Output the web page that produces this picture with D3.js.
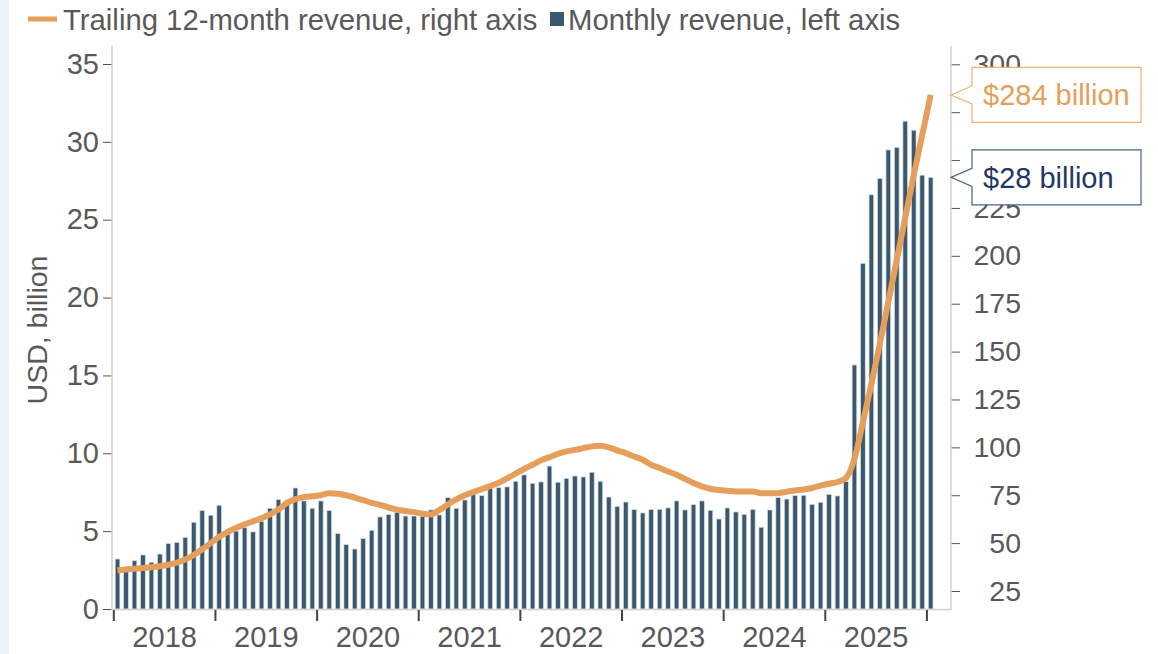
<!DOCTYPE html>
<html>
<head>
<meta charset="utf-8">
<script src="https://cdn.jsdelivr.net/npm/d3@7"></script>
<style>
  html, body { margin: 0; padding: 0; background: #ffffff; }
  svg { display: block; font-family: "Liberation Sans", Arial, sans-serif; }
</style>
</head>
<body>
<svg id="chart" width="1158" height="654"></svg>
<script>
// ---------- DATA ----------
const yearLabels = ["2018", "2019", "2020", "2021", "2022", "2023", "2024", "2025"];
const leftTicks = [0, 5, 10, 15, 20, 25, 30, 35];
const rightTicks = [25, 50, 75, 100, 125, 150, 175, 200, 225, 250, 275, 300];
const hiddenRightLabels = [250, 275]; // covered by the call-out boxes in the original

// Monthly revenue, USD billion (Jan 2018 - Jan 2026)
const monthlyRevenue = [
  3.21, 2.70, 3.10, 3.47, 3.00, 3.53, 4.20, 4.28, 4.60, 5.57, 6.32, 6.02,   // 2018
  6.66, 4.86, 5.00, 5.22, 4.95, 5.63, 6.47, 7.02, 6.80, 7.77, 6.94, 6.47,   // 2019
  6.94, 6.32, 4.84, 4.13, 3.85, 4.52, 5.05, 5.91, 6.06, 6.21, 5.97, 5.97,   // 2020
  5.93, 6.36, 6.04, 7.15, 6.47, 7.00, 7.39, 7.28, 7.75, 7.79, 7.84, 8.20,   // 2021
  8.61, 8.07, 8.16, 9.18, 8.14, 8.39, 8.54, 8.48, 8.78, 8.20, 7.19, 6.59,   // 2022
  6.87, 6.38, 6.17, 6.38, 6.40, 6.49, 6.94, 6.36, 6.70, 6.94, 6.34, 5.78,   // 2023
  6.49, 6.23, 6.08, 6.40, 5.25, 6.36, 7.15, 7.06, 7.28, 7.30, 6.72, 6.85,   // 2024
  7.36, 7.26, 8.18, 15.67, 22.20, 26.60, 27.65, 29.48, 29.64, 31.33, 30.75, 27.86, // 2025
  27.72                                                                     // Jan 2026
];

// Trailing 12-month revenue, USD billion
const trailingRevenue = [
  35.8, 36.2, 36.6, 37.0, 37.4, 37.9, 38.7, 39.8, 41.4, 43.8, 46.8, 50.0,
  53.3, 55.8, 58.0, 59.8, 61.4, 63.0, 65.0, 67.5, 71.0, 73.0, 74.0, 74.5,
  75.0, 76.0, 75.8, 75.0, 73.8, 72.5, 71.0, 70.0, 68.6, 67.5, 66.8, 66.2,
  65.3, 65.0, 67.3, 70.2, 72.8, 75.0, 76.6, 78.2, 79.8, 81.5, 83.8, 86.3,
  88.7, 90.9, 93.2, 94.9, 96.6, 97.9, 98.7, 99.6, 100.5, 100.8, 100.0, 98.4,
  97.0, 95.2, 93.5, 90.9, 89.2, 87.4, 85.7, 83.5, 81.4, 79.6, 78.4, 77.7,
  77.3, 77.0, 77.0, 77.0, 76.1, 76.0, 76.1, 76.8, 77.5, 78.0, 78.8, 80.0,
  81.0, 81.9, 84.0, 94.0, 113.0, 133.0, 154.0, 176.0, 198.0, 220.0, 242.0, 263.0,
  284.0
];

const months = d3.timeMonth.range(new Date(2018, 0, 1), new Date(2026, 1, 1));

const legendItems = ["Trailing 12-month revenue, right axis", "Monthly revenue, left axis"];
const annotations = [
  { text: "$284 billion", value: trailingRevenue[trailingRevenue.length - 1], axis: "right" },
  { text: "$28 billion", value: monthlyRevenue[monthlyRevenue.length - 1], axis: "left" }
];

// ---------- STYLE ----------
const barColor = "#3A596F";
const lineColor = "#E69F5B";
const textColor = "#595959";
const axisColor = "#d0d0d0";
const tickColor = "#555555";
const navy = "#1F3864";

const svg = d3.select("#chart");

// light left strip
svg.append("rect").attr("x", 0).attr("y", 0).attr("width", 9).attr("height", 654).attr("fill", "#eef3f5");

// ---------- SCALES ----------
const x = d3.scaleBand()
  .domain(months.map((d, i) => i))
  .range([113.3, 934.9])
  .paddingInner(0.45)
  .paddingOuter(0.225);

const xIdx = d3.scaleLinear().domain([0, months.length]).range([113.3, 934.9]);

const yL = d3.scaleLinear().domain([0, 35]).range([609, 64]);
const yR = d3.scaleLinear().domain([25, 300]).range([591, 64.3]);

// ---------- BARS ----------
svg.append("g")
  .selectAll("rect")
  .data(monthlyRevenue)
  .join("rect")
  .attr("x", (d, i) => x(i))
  .attr("width", x.bandwidth())
  .attr("y", d => yL(d))
  .attr("height", d => yL(0) - yL(d))
  .attr("fill", barColor)
  .attr("stroke", "#d3dbe1")
  .attr("stroke-width", 0.7);

// ---------- AXES ----------
// left axis
const gL = svg.append("g").attr("transform", "translate(112,0)")
  .call(d3.axisLeft(yL).tickValues(leftTicks).tickSize(9).tickPadding(4));
gL.select(".domain").remove();
gL.selectAll(".tick line").attr("stroke", tickColor);
gL.selectAll(".tick text").attr("fill", textColor).style("font-size", "29px");
svg.append("line").attr("x1", 112).attr("x2", 112).attr("y1", 46).attr("y2", 610)
  .attr("stroke", axisColor).attr("stroke-width", 1.5);

// right axis
const gR = svg.append("g").attr("transform", "translate(951,0)")
  .call(d3.axisRight(yR).tickValues(rightTicks).tickSize(9).tickPadding(4)
    .tickFormat(d => hiddenRightLabels.includes(d) ? "" : d));
gR.select(".domain").remove();
gR.selectAll(".tick line").attr("stroke", tickColor);
gR.selectAll(".tick text").attr("fill", textColor).style("font-size", "28.5px")
  .attr("text-anchor", "end").attr("x", 70);
svg.append("line").attr("x1", 951).attr("x2", 951).attr("y1", 46).attr("y2", 610)
  .attr("stroke", axisColor).attr("stroke-width", 1.5);

// bottom axis line
svg.append("line").attr("x1", 112).attr("x2", 951).attr("y1", 609.5).attr("y2", 609.5)
  .attr("stroke", axisColor).attr("stroke-width", 1.5);

// x ticks at year boundaries
const gX = svg.append("g").attr("transform", "translate(0,610)")
  .call(d3.axisBottom(xIdx).tickValues(d3.range(0, months.length, 12)).tickSize(11).tickFormat(""));
gX.select(".domain").remove();
gX.selectAll(".tick line").attr("stroke", "#444").attr("stroke-width", 2);

// x labels centered in years
const gXL = svg.append("g").attr("transform", "translate(0,610)")
  .call(d3.axisBottom(xIdx).tickValues(yearLabels.map((d, i) => i * 12 + 6))
    .tickSize(0).tickPadding(16).tickFormat((d, i) => yearLabels[i]));
gXL.select(".domain").remove();
gXL.selectAll(".tick text").attr("fill", textColor).style("font-size", "29px");

// y title
svg.append("text")
  .attr("transform", "translate(47,330) rotate(-90)")
  .attr("text-anchor", "middle")
  .attr("fill", textColor)
  .style("font-size", "28.5px")
  .text("USD, billion");

// ---------- LINE ----------
const line = d3.line()
  .x((d, i) => x(i) + x.bandwidth() / 2)
  .y(d => yR(d))
  .curve(d3.curveMonotoneX);

svg.append("path")
  .datum(trailingRevenue)
  .attr("d", line)
  .attr("fill", "none")
  .attr("stroke", lineColor)
  .attr("stroke-width", 6)
  .attr("stroke-linejoin", "round");

// ---------- LEGEND ----------
const lg = svg.append("g");
lg.append("line").attr("x1", 28).attr("x2", 57).attr("y1", 19).attr("y2", 19)
  .attr("stroke", lineColor).attr("stroke-width", 5);
lg.append("text").attr("x", 63).attr("y", 30).attr("fill", textColor)
  .style("font-size", "29.3px").text(legendItems[0]);
lg.append("rect").attr("x", 550).attr("y", 12).attr("width", 14).attr("height", 14).attr("fill", barColor);
lg.append("text").attr("x", 568).attr("y", 30).attr("fill", textColor)
  .style("font-size", "29.3px").text(legendItems[1]);

// ---------- ANNOTATIONS ----------
const annColors = { right: lineColor, left: navy };
const annBorder = { right: "#EFB071", left: "#4D6485" };
annotations.forEach(a => {
  const ty = a.axis === "right" ? yR(a.value) : yL(a.value);
  const tipX = 951, bx = 972, bw = 169, bh = 55;
  const top = ty - 27.5;
  const path = `M${tipX},${ty} L${bx},${ty - 9} L${bx},${top} L${bx + bw},${top} L${bx + bw},${top + bh} L${bx},${top + bh} L${bx},${ty + 9} Z`;
  svg.append("path").attr("d", path).attr("fill", "#fff")
    .attr("stroke", annBorder[a.axis]).attr("stroke-width", 1.2);
  svg.append("text").attr("x", 983).attr("y", ty).attr("dy", "0.35em")
    .attr("fill", annColors[a.axis]).style("font-size", "29px").text(a.text);
});
</script>
</body>
</html>
